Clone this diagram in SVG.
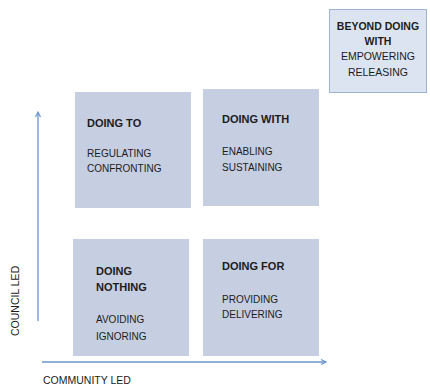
<svg xmlns="http://www.w3.org/2000/svg" width="430" height="388" viewBox="0 0 430 388">
<defs>
<style>
.box{fill:#c6cee2;}
.beyond{fill:#dce4f2;stroke:#9fb3d3;stroke-width:1;}
.t{font-family:"Liberation Sans",Arial,sans-serif;fill:#1c1c1c;}
.h{font-size:11px;font-weight:bold;}
.s{font-size:10px;}
.ax{font-size:10.5px;}
.axis{stroke:#6a95cc;stroke-width:1.3;fill:none;}
</style>
<marker id="ah" markerWidth="8" markerHeight="8" refX="6" refY="4" orient="auto" markerUnits="userSpaceOnUse">
<path d="M1,1.5 L6,4 L1,6.5" fill="none" stroke="#6a95cc" stroke-width="1.2"/>
</marker>
</defs>
<rect width="430" height="388" fill="#ffffff"/>
<g id="connectors">
<line class="axis" x1="38" y1="321" x2="38" y2="112" marker-end="url(#ah)"/>
<line class="axis" x1="42" y1="362" x2="326" y2="362" marker-end="url(#ah)"/>
</g>
<g id="doing-to">
<rect class="box" x="75" y="92" width="116" height="116"/>
<text class="t h" x="87" y="127">DOING TO</text>
<text class="t s" x="87" y="157">REGULATING</text>
<text class="t s" x="87" y="172">CONFRONTING</text>
</g>
<g id="doing-with">
<rect class="box" x="203" y="89" width="116" height="117"/>
<text class="t h" x="222" y="123">DOING WITH</text>
<text class="t s" x="222" y="155">ENABLING</text>
<text class="t s" x="222" y="171">SUSTAINING</text>
</g>
<g id="doing-nothing">
<rect class="box" x="73" y="239" width="116" height="117"/>
<text class="t h" x="96" y="275">DOING</text>
<text class="t h" x="96" y="291">NOTHING</text>
<text class="t s" x="96" y="323">AVOIDING</text>
<text class="t s" x="96" y="340">IGNORING</text>
</g>
<g id="doing-for">
<rect class="box" x="203" y="239" width="116" height="117"/>
<text class="t h" x="222" y="270">DOING FOR</text>
<text class="t s" x="222" y="303">PROVIDING</text>
<text class="t s" x="222" y="318">DELIVERING</text>
</g>
<g id="beyond">
<rect class="beyond" x="329.5" y="9.5" width="97" height="83"/>
<text class="t" font-size="10.5" font-weight="bold" x="378" y="30" text-anchor="middle">BEYOND DOING</text>
<text class="t" font-size="10.5" font-weight="bold" x="378" y="45" text-anchor="middle">WITH</text>
<text class="t" font-size="10.5" x="378" y="60" text-anchor="middle">EMPOWERING</text>
<text class="t" font-size="10.5" x="378" y="76" text-anchor="middle">RELEASING</text>
</g>
<g id="axis-labels">
<text class="t ax" x="43" y="384">COMMUNITY LED</text>
<text class="t ax" transform="translate(19,336) rotate(-90)">COUNCIL LED</text>
</g>
</svg>
